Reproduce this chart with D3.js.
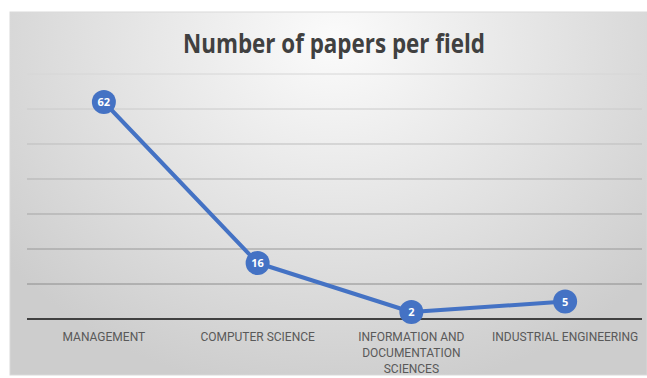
<!DOCTYPE html>
<html><head><meta charset="utf-8">
<script src="https://cdn.jsdelivr.net/npm/d3@7"></script>
<style>body{margin:0;background:#fff}svg{display:block}</style>
</head><body>
<script>
const categories = ["MANAGEMENT", "COMPUTER SCIENCE", "INFORMATION AND DOCUMENTATION SCIENCES", "INDUSTRIAL ENGINEERING"];
const categoryLines = [["MANAGEMENT"], ["COMPUTER SCIENCE"], ["INFORMATION AND", "DOCUMENTATION", "SCIENCES"], ["INDUSTRIAL ENGINEERING"]];
const values = [62, 16, 2, 5];
const yTicks = [0, 10, 20, 30, 40, 50, 60, 70];
const title = "Number of papers per field";

const W = 647, H = 378;
const svg = d3.select("body").append("svg").attr("width", W).attr("height", H);
const defs = svg.append("defs");
const rg = defs.append("radialGradient").attr("id", "bg")
  .attr("gradientUnits", "userSpaceOnUse").attr("cx", 335).attr("cy", 40).attr("r", 420)
  .attr("gradientTransform", "translate(335,40) scale(1,0.85) translate(-335,-40)");
rg.append("stop").attr("offset", "0").attr("stop-color", "#fbfbfb");
rg.append("stop").attr("offset", "0.55").attr("stop-color", "#e2e2e2");
rg.append("stop").attr("offset", "1").attr("stop-color", "#cdcdcd");

svg.append("rect").attr("x", 10).attr("y", 12).attr("width", W - 10).attr("height", 363)
  .attr("fill", "url(#bg)").attr("stroke", "#d9d9d9").attr("stroke-width", 1);

const x = d3.scaleBand().domain(categories).range([27, 642]);
const y = d3.scaleLinear().domain([0, 70]).range([319, 74]);

const gridColor = d3.scaleLinear().domain([70, 10]).range(["#d6d6d6", "#8c8c8c"]);
svg.append("g").selectAll("line").data(yTicks.filter(d => d > 0)).join("line")
  .attr("x1", 27).attr("x2", 642)
  .attr("y1", d => y(d)).attr("y2", d => y(d))
  .attr("stroke", d => gridColor(d)).attr("stroke-width", 1);

svg.append("line").attr("x1", 27).attr("x2", 642).attr("y1", y(0)).attr("y2", y(0))
  .attr("stroke", "#404040").attr("stroke-width", 2);

svg.append("text").attr("x", 334).attr("y", 53).attr("text-anchor", "middle")
  .attr("font-family", "'Open Sans', 'Noto Sans', sans-serif").attr("font-weight", "bold")
  .attr("font-size", 27).attr("fill", "#404040")
  .attr("textLength", 302).attr("lengthAdjust", "spacingAndGlyphs")
  .text(title);

const lab = svg.append("g").attr("font-family", "'Liberation Sans Narrow', 'Roboto', sans-serif")
  .attr("font-size", 12).attr("fill", "#595959");
categories.forEach((c, i) => {
  const t = lab.append("text").attr("x", x(c) + x.bandwidth() / 2).attr("y", 341).attr("text-anchor", "middle");
  categoryLines[i].forEach((l, j) => {
    t.append("tspan").attr("x", x(c) + x.bandwidth() / 2).attr("dy", j === 0 ? 0 : 16).text(l);
  });
});

const cx = (d, i) => x(categories[i]) + x.bandwidth() / 2;
const line = d3.line().x((d, i) => cx(d, i)).y(d => y(d));
svg.append("path").datum(values).attr("d", line).attr("fill", "none")
  .attr("stroke", "#4472c4").attr("stroke-width", 4).attr("stroke-linejoin", "round");

const pts = svg.append("g");
pts.selectAll("circle").data(values).join("circle")
  .attr("cx", cx).attr("cy", d => y(d)).attr("r", 12).attr("fill", "#4472c4");
pts.selectAll("text").data(values).join("text")
  .attr("x", cx).attr("y", d => y(d) + 4).attr("text-anchor", "middle")
  .attr("font-family", "'Open Sans', sans-serif").attr("font-weight", "bold")
  .attr("font-size", 11).attr("fill", "#ffffff").text(d => d);
</script>
</body></html>
